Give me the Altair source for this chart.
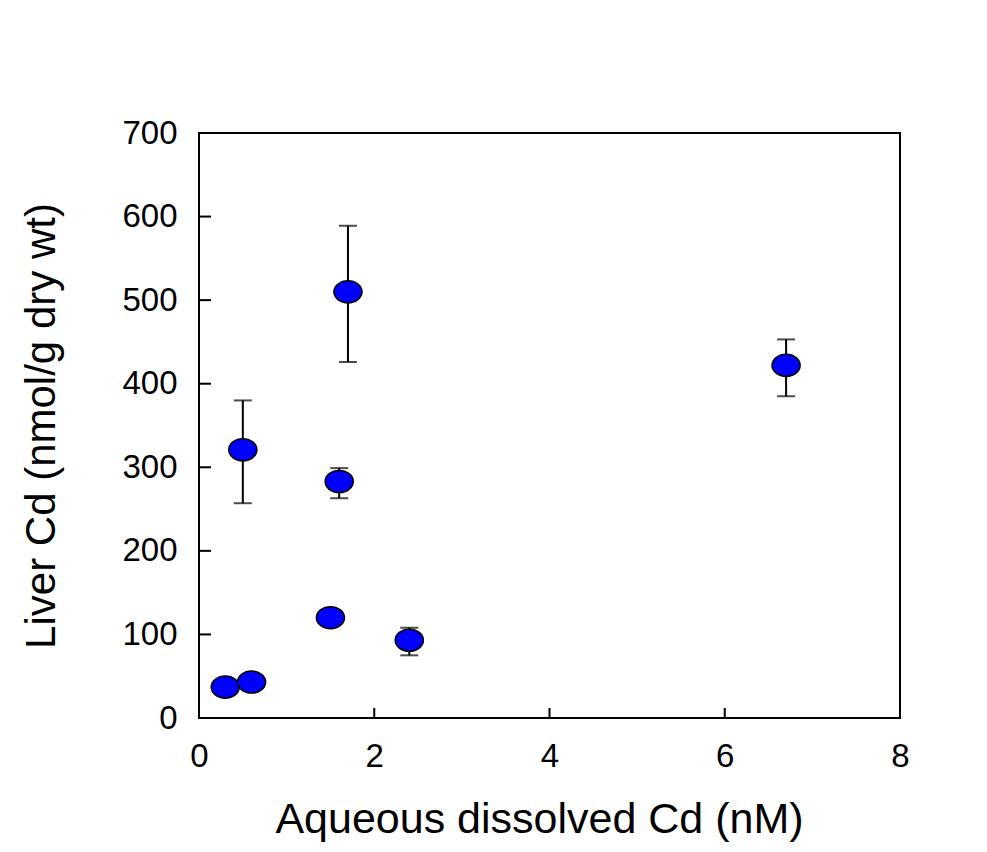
import altair as alt
import pandas as pd

# Data
cd_water = [0.3, 0.6, 0.5, 1.7, 1.6, 1.5, 2.4, 6.7]
cd_liver = [37, 43, 321, 510, 283, 120, 93, 422]
err_low = [None, None, 257, 426, 263, None, 75, 385]
err_high = [None, None, 380, 589, 299, None, 108, 453]

x_ticks = [0, 2, 4, 6, 8]
y_ticks = [0, 100, 200, 300, 400, 500, 600, 700]

df = pd.DataFrame({"x": cd_water, "y": cd_liver, "lo": err_low, "hi": err_high})
xt = pd.DataFrame({"v": x_ticks[1:-1]})
yt = pd.DataFrame({"v": y_ticks[1:-1]})

W, H = 701, 585
FONT = "Liberation Sans"

xscale = alt.Scale(domain=[0, 8], nice=False, zero=False)
yscale = alt.Scale(domain=[0, 700], nice=False)

xaxis = alt.Axis(
    values=x_ticks, ticks=False, domain=False, grid=False, format="d",
    labelFontSize=33, labelPadding=22, labelFont=FONT, labelColor="black",
    labelFlush=False,
    title="Aqueous dissolved Cd (nM)", titleFontSize=43, titleFont=FONT,
    titleFontWeight="normal", titleColor="black",
    titleX=340, titleY=114, titleBaseline="alphabetic", titleAlign="center",
)
yaxis = alt.Axis(
    values=y_ticks, ticks=False, domain=False, grid=False, format="d",
    labelFontSize=33, labelPadding=22, labelFont=FONT, labelColor="black",
    labelFlush=False,
    title="Liver Cd (nmol/g dry wt)", titleFontSize=42, titleFont=FONT,
    titleFontWeight="normal", titleColor="black",
    titleX=-158, titleY=H / 2, titleBaseline="middle", titleAlign="center",
    titleAngle=270,
)

base = alt.Chart(df)

points = base.mark_point(
    shape="M-1,0A1,0.786,0,1,1,1,0A1,0.786,0,1,1,-1,0Z",
    filled=True, fill="#0000ff", stroke="black", strokeWidth=1.6,
    size=784, opacity=1, fillOpacity=1,
).encode(
    x=alt.X("x:Q", scale=xscale, axis=xaxis),
    y=alt.Y("y:Q", scale=yscale, axis=yaxis),
)

bars = base.mark_rule(color="black", strokeWidth=2).encode(
    x="x:Q", y="lo:Q", y2="hi:Q"
)
cap_lo = base.mark_tick(orient="horizontal", color="black", thickness=2, size=18).encode(
    x="x:Q", y="lo:Q"
)
cap_hi = base.mark_tick(orient="horizontal", color="black", thickness=2, size=18).encode(
    x="x:Q", y="hi:Q"
)

xtick_marks = alt.Chart(xt).mark_rule(color="black", strokeWidth=2).encode(
    x="v:Q", y=alt.value(H), y2=alt.value(H - 10)
)
ytick_marks = alt.Chart(yt).mark_rule(color="black", strokeWidth=2).encode(
    y="v:Q", x=alt.value(0), x2=alt.value(12)
)

chart = alt.layer(
    xtick_marks, ytick_marks, bars, cap_lo, cap_hi, points
).properties(
    width=W, height=H,
    autosize=alt.AutoSizeParams(type="none"),
    padding={"left": 191, "top": 125, "right": 70, "bottom": 124},
    background="white",
).configure_view(
    stroke="black", strokeWidth=2
)

chart.save("out.html", embed_options={"renderer": "svg", "actions": False})
